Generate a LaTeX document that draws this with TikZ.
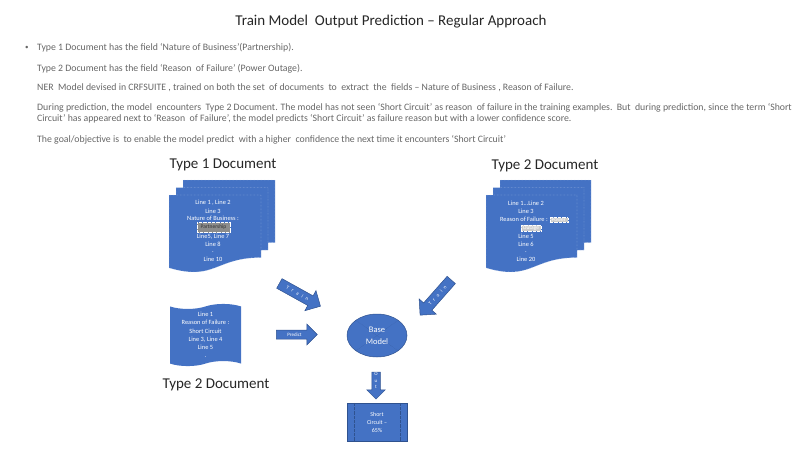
\documentclass[tikz,border=0pt]{standalone}
\usepackage{fontspec}
\setmainfont{Carlito}
\usetikzlibrary{shapes.geometric,shapes.symbols,shapes.arrows}
\definecolor{officeblue}{HTML}{4472C4}
\definecolor{officeline}{HTML}{2F528F}
\tikzset{
    every node/.style={font=\fontsize{4.5}{5.5}\selectfont},
    blockshape/.style={fill=officeblue, draw=officeline, line width=0.5pt, text=white},
    docpage/.style={fill=officeblue, draw=white!70!officeblue, densely dotted, line width=0.4pt},
    blockarrow/.style={blockshape, single arrow, inner xsep=1pt, single arrow head extend=6pt,
        font=\fontsize{5}{6}\selectfont},
    doclabel/.style={font=\fontsize{15}{18}\selectfont, text=black!85},
    bullettext/.style={font=\fontsize{9.8}{11}\selectfont, text=black!60, anchor=west, inner sep=0pt},
    doctext/.style={text=white, align=center, inner sep=0pt, font=\fontsize{6.4}{8.2}\selectfont},
    marked/.style={inner sep=0.6pt, draw=white, densely dotted, line width=0.3pt, font=\fontsize{5.5}{6}\selectfont}
}
% one page of a stacked document: x, y, width, height
\newcommand{\docpage}[4]{%
    \filldraw[docpage] (#1,#2) -- ({#1+#3},#2) -- ({#1+#3},{#2+0.802*#4})
        .. controls ({#1+0.5*#3},{#2+0.802*#4}) and ({#1+0.5*#3},{#2+1.107*#4}) .. (#1,{#2+0.934*#4}) -- cycle;}
% spaced letters on the block arrows
\newcommand{\spaced}{T\kern3.6pt r\kern3.6pt a\kern3.6pt i\kern3.6pt n}

\begin{document}
\begin{tikzpicture}[x=1pt,y=-1pt]
    \useasboundingbox (0,0) rectangle (800,450);

    % Title and notes
    \node[font=\fontsize{15}{18}\selectfont, text=black!85] (title) at (391,22) {Train Model\ \ Output Prediction -- Regular Approach};
    \node[bullettext, font=\fontsize{7}{8}\selectfont] (bullet) at (25,48) {\textbullet};
    \foreach \y/\t [count=\i] in {
        48/{Type 1 Document has the field ‘Nature of Business’(Partnership).},
        69/{Type 2 Document has the field ‘Reason\ \ of Failure’ (Power Outage).},
        88/{NER\ \ Model devised in CRFSUITE , trained on both the set\ \ of documents\ \ to\ \ extract\ \ the\ \ fields -- Nature of Business , Reason of Failure.},
        108/{During prediction, the model\ \ encounters\ \ Type 2 Document. The model has not seen ‘Short Circuit’ as reason\ \ of failure in the training examples.\ \ But\ \ during prediction, since the term ‘Short},
        119/{Circuit’ has appeared next to ‘Reason\ \ of Failure’, the model predicts ‘Short Circuit’ as failure reason but with a lower confidence score.},
        140/{The goal/objective is\ \ to enable the model predict\ \ with a higher\ \ confidence the next time it encounters ‘Short Circuit’}} {
        \node[bullettext] (note\i) at (37,\y) {\t};
    }

    % Type 1 document (training)
    \node[doclabel] (typeA) at (223,165) {Type 1 Document};
    \foreach \k in {0,1,2} {
        \docpage{183-7*\k}{180+7.5*\k}{92}{78}
    }
    \foreach \y/\t [count=\i] in {203/{Line 1 , Line 2}, 211/Line 3, 218/{Nature of Business :},
        237/{Line5, Line 7}, 244/Line 8, 252/., 259.5/Line 10} {
        \node[doctext] (lineA\i) at (213,\y) {\t};
    }
    \node[marked, fill=black!45, text=black!80, minimum width=33pt, minimum height=10pt] (valueA) at (213.5,227.5) {Partnership};

    % Type 2 document (training)
    \node[doclabel] (typeB) at (545,166) {Type 2 Document};
    \foreach \k in {0,1,2} {
        \docpage{500-7*\k}{180+7.5*\k}{91}{78}
    }
    \foreach \y/\t [count=\i] in {203/{Line 1...Line 2}, 211/Line 3, 236/Line 5, 244/Line 6, 252/., 259.5/Line 20} {
        \node[doctext] (lineB\i) at (526,\y) {\t};
    }
    \node[doctext, anchor=east] (fieldB) at (548,219.5) {Reason of Failure :};
    \node[marked, fill=black!20, text=white, minimum width=18pt, anchor=west] (valueB1) at (549.5,220) {Power};
    \node[marked, fill=black!20, text=white, minimum width=20pt] (valueB2) at (531,228) {Outage};

    % Type 2 document (prediction)
    \node[blockshape, tape, draw=none, minimum width=71pt, minimum height=60pt, align=center,
        font=\fontsize{6.4}{8.2}\selectfont] (tapeC) at (205.5,335)
        {Line 1\\Reason of Failure :\\Short Circuit\\Line 3, Line 4\\Line 5\\.};
    \node[doclabel] (typeC) at (216,385) {Type 2 Document};

    % Model and output
    \node[blockshape, ellipse, minimum width=60pt, minimum height=43pt, align=center,
        font=\fontsize{8.5}{12}\selectfont] (base) at (377,335.5) {Base\\Model};
    \begin{scope}
        \clip (377,335.5) ellipse [x radius=30pt, y radius=21.5pt];
        \draw[officeline, densely dotted, line width=0.3pt] (base.north west) -- (base.south east);
        \draw[officeline, densely dotted, line width=0.3pt] (base.north east) -- (base.south west);
    \end{scope}
    \node[blockshape, minimum width=60pt, minimum height=38pt, align=center,
        font=\fontsize{6}{8}\selectfont] (result) at (377,422) {Short\\Circuit --\\65\%};
    \draw[officeline, densely dotted, line width=0.3pt] ([xshift=7pt]result.north west) -- ([xshift=7pt]result.south west);
    \draw[officeline, densely dotted, line width=0.3pt] ([xshift=-7pt]result.north east) -- ([xshift=-7pt]result.south east);

    % Block arrows
    \node[blockarrow, inner ysep=3.5pt, minimum height=47pt, rotate=-29] (trainA) at (297.5,293.5) {\spaced};
    \node[blockarrow, inner ysep=3.5pt, minimum height=47pt, shape border rotate=180, rotate=48.5] (trainB) at (437.5,295.5) {\spaced};
    \node[blockarrow, inner ysep=2.5pt, minimum height=41pt] (predict) at (294.5,334.5) {Predict};
    \node[blockarrow, inner ysep=4pt, single arrow head extend=5pt, minimum height=27pt, rotate=-90] (output) at (376,383.5) {};
    \node[doctext, font=\fontsize{5}{6.5}\selectfont] (outtext) at (376,380.5) {O\\u\\t};
\end{tikzpicture}
\end{document}
